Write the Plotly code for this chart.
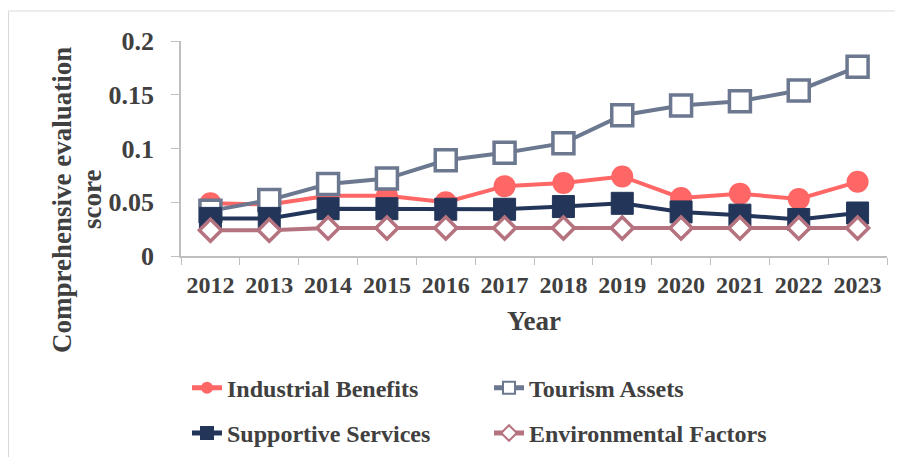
import plotly.graph_objects as go

years = ["2012", "2013", "2014", "2015", "2016", "2017", "2018", "2019", "2020", "2021", "2022", "2023"]
industrial = [0.049, 0.048, 0.056, 0.056, 0.050, 0.065, 0.068, 0.074, 0.054, 0.058, 0.053, 0.069]
tourism = [0.042, 0.052, 0.067, 0.072, 0.089, 0.096, 0.105, 0.131, 0.140, 0.144, 0.154, 0.176]
supportive = [0.035, 0.035, 0.044, 0.044, 0.0435, 0.0435, 0.046, 0.049, 0.041, 0.038, 0.034, 0.040]
environmental = [0.024, 0.024, 0.026, 0.026, 0.026, 0.026, 0.026, 0.026, 0.026, 0.026, 0.026, 0.026]

FONT = "Liberation Serif"
TXT = "#404040"

fig = go.Figure()
fig.add_trace(go.Scatter(x=years, y=industrial, name="Industrial Benefits", mode="lines+markers",
                         line=dict(color="#FF6666", width=4),
                         marker=dict(symbol="circle", size=22, color="#FF6666"), legend="legend"))
fig.add_trace(go.Scatter(x=years, y=tourism, name="Tourism Assets", mode="lines+markers",
                         line=dict(color="#6B7890", width=4),
                         marker=dict(symbol="square", size=21, color="white",
                                     line=dict(color="#6B7890", width=3.5)), legend="legend"))
fig.add_trace(go.Scatter(x=years, y=supportive, name="Supportive Services", mode="lines+markers",
                         line=dict(color="#23365A", width=4),
                         marker=dict(symbol="square", size=22, color="#23365A",
                                     line=dict(color="#23365A", width=1)), legend="legend2"))
fig.add_trace(go.Scatter(x=years, y=environmental, name="Environmental Factors", mode="lines+markers",
                         line=dict(color="#B5727F", width=4),
                         marker=dict(symbol="diamond", size=17, color="white",
                                     line=dict(color="#B5727F", width=3.5)), legend="legend2"))

legend_common = dict(orientation="h", xanchor="left", yanchor="middle",
                     font=dict(family=FONT, size=24, color=TXT, weight="bold"),
                     itemsizing="constant", entrywidth=257, entrywidthmode="pixels",
                     bgcolor="rgba(0,0,0,0)", tracegroupgap=0)

title_font = dict(family=FONT, size=27, color=TXT, weight="bold")

fig.update_layout(
    width=895, height=449,
    margin=dict(l=173, r=16, t=33, b=201, autoexpand=False),
    paper_bgcolor="white", plot_bgcolor="white",
    showlegend=True,
    legend=dict(x=0.0085, y=-0.615, **legend_common),
    legend2=dict(x=0.0085, y=-0.825, **legend_common),
    xaxis=dict(type="category", range=[-0.5, 11.5], showgrid=False, automargin=False,
               showline=True, linecolor="#BFBFBF", linewidth=1.5,
               ticks="outside", tickson="boundaries", ticklen=7, tickcolor="#BFBFBF",
               ticklabelstandoff=6,
               tickfont=dict(family=FONT, size=24, color=TXT, weight="bold"),
               title=dict(text="Year", font=dict(family=FONT, size=27, color=TXT, weight="bold"), standoff=15)),
    yaxis=dict(range=[0, 0.2], tickvals=[0, 0.05, 0.1, 0.15, 0.2], automargin=False,
               ticktext=["0", "0.05", "0.1", "0.15", "0.2"], showgrid=False, zeroline=False,
               showline=True, linecolor="#BFBFBF", linewidth=1.5,
               ticks="outside", ticklen=8, tickcolor="#BFBFBF",
               ticklabelstandoff=12,
               tickfont=dict(family=FONT, size=26, color=TXT, weight="bold")),
    annotations=[
        dict(text="Comprehensive evaluation", xref="paper", yref="paper", x=-0.1686, y=0.2605,
             textangle=-90, showarrow=False, font=title_font, xanchor="center", yanchor="middle"),
        dict(text="score", xref="paper", yref="paper", x=-0.126, y=0.2605,
             textangle=-90, showarrow=False, font=title_font, xanchor="center", yanchor="middle"),
    ],
    shapes=[dict(type="rect", xref="paper", yref="paper", x0=-0.2443, x1=1.2, y0=-2.0, y1=1.1395,
                 line=dict(color="#D9D9D9", width=1), fillcolor="rgba(0,0,0,0)", layer="below")],
)

fig.write_html("out.html")
